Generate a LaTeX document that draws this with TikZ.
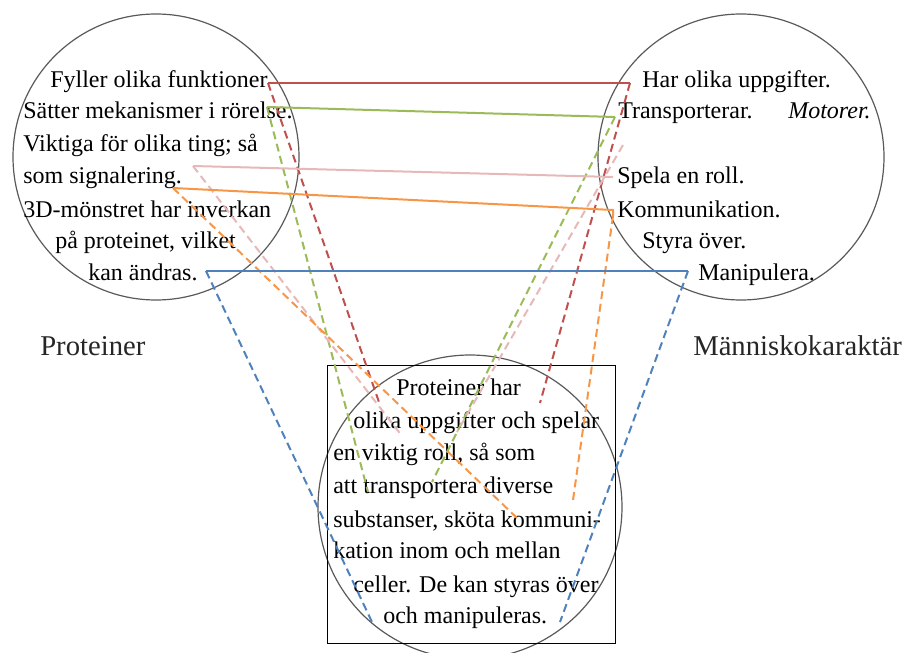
\documentclass[tikz,border=0pt]{standalone}
\usepackage{fontspec}
\setmainfont{Liberation Serif}
\definecolor{cRed}{HTML}{C0504D}
\definecolor{cGreen}{HTML}{9BBB59}
\definecolor{cPink}{HTML}{E6B9B8}
\definecolor{cOrange}{HTML}{F79646}
\definecolor{cBlue}{HTML}{4F81BD}
\begin{document}
\begin{tikzpicture}[x=0.75pt,y=-0.75pt,
  txt/.style={anchor=base west,inner sep=0pt,font=\fontsize{18}{21}\selectfont},
  lbl/.style={anchor=base west,inner sep=0pt,font=\fontsize{21.5}{25}\selectfont,text=black!85},
  ring/.style={circle,draw=black!65,line width=0.9pt,inner sep=0pt,minimum size=#1},
  frame/.style={draw=black,line width=0.6pt,inner sep=0pt},
  link/.style={line width=1.5pt},
  drop/.style={line width=1.5pt,dash pattern=on 6pt off 3.5pt},
]
\useasboundingbox (0,0) rectangle (907,653);

% circles and frame
\node[ring=214.5pt] (leftRing)  at (156,157) {};
\node[ring=214.5pt] (rightRing) at (741,157) {};
\node[ring=228pt]   (lowRing)   at (470,507) {};
\node[frame,minimum width=216pt,minimum height=208.5pt] (summary) at (471,504) {};

% left circle text
\node[txt] (l1) at (50,87)  {Fyller olika funktioner};
\node[txt] (l2) at (23,118) {Sätter mekanismer i rörelse.};
\node[txt] (l3) at (23,151) {Viktiga för olika ting; så};
\node[txt] (l4) at (23,183) {som signalering.};
\node[txt] (l5) at (23,217) {3D-mönstret har inverkan};
\node[txt] (l6) at (55,248) {på proteinet, vilket};
\node[txt] (l7) at (88,280) {kan ändras.};

% right circle text
\node[txt] (r1) at (642,87)  {Har olika uppgifter.};
\node[txt] (r2) at (618,118) {Transporterar.};
\node[txt] (r2m) at (788,118) {\itshape Motorer.};
\node[txt] (r3) at (617,183) {Spela en roll.};
\node[txt] (r4) at (617,217) {Kommunikation.};
\node[txt] (r5) at (642,248) {Styra över.};
\node[txt] (r6) at (698,280) {Manipulera.};

% frame text
\node[txt] (b1) at (396,395) {Proteiner har};
\node[txt] (b2) at (353,428) {olika uppgifter och spelar};
\node[txt] (b3) at (333,460) {en viktig roll, så som};
\node[txt] (b4) at (333,493) {att transportera diverse};
\node[txt] (b5) at (333,527) {substanser, sköta kommuni-};
\node[txt] (b6) at (333,558) {kation inom och mellan};
\node[txt] (b7) at (353,592) {celler. De kan styras över};
\node[txt] (b8) at (383,623) {och manipuleras.};

% captions
\node[lbl] (capL) at (40,355)  {Proteiner};
\node[lbl] (capR) at (693,355) {Människokaraktär};

% connector end points
\coordinate (rA) at (268,83);  \coordinate (rB) at (630,83);
\coordinate (rA2) at (380,405); \coordinate (rB2) at (540,403);
\coordinate (gA) at (267,107); \coordinate (gB) at (615,117);
\coordinate (gA2) at (368,492); \coordinate (gB2) at (432,482);
\coordinate (pA) at (193,166); \coordinate (pB) at (613,177);
\coordinate (pA2) at (402,436); \coordinate (pC) at (623,145);
\coordinate (pC2) at (457,432);
\coordinate (oA) at (173,188); \coordinate (oB) at (613,210);
\coordinate (oB1) at (613,216);
\coordinate (oA2) at (517,518); \coordinate (oB2) at (573,500);
\coordinate (bA) at (206,271); \coordinate (bB) at (688,271);
\coordinate (bA2) at (372,622); \coordinate (bB2) at (560,622);

% red
\draw[link,cRed] (rA) -- (rB);
\draw[drop,cRed] (rA) -- (rA2);
\draw[drop,cRed] (rB) -- (rB2);
% green
\draw[link,cGreen] (gA) -- (gB);
\draw[drop,cGreen] (gA) -- (gA2);
\draw[drop,cGreen] (gB) -- (gB2);
% pink
\draw[link,cPink] (pA) -- (pB);
\draw[drop,cPink] (pA) -- (pA2);
\draw[drop,cPink] (pC) -- (pC2);
% orange
\draw[link,cOrange] (oA) -- (oB) -- (oB1);
\draw[drop,cOrange] (oA) -- (oA2);
\draw[drop,cOrange] (oB1) -- (oB2);
% blue
\draw[link,cBlue] (bA) -- (bB);
\draw[drop,cBlue] (bA) -- (bA2);
\draw[drop,cBlue] (bB) -- (bB2);
\end{tikzpicture}
\end{document}
